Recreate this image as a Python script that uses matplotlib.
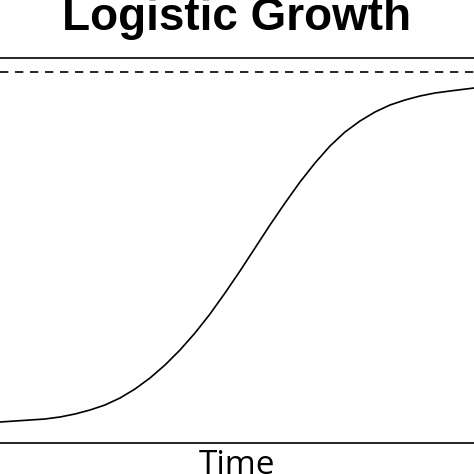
import matplotlib
matplotlib.use("Agg")
import matplotlib.pyplot as plt

# curve (time, population)
time = [0, 15, 30, 45, 60, 75, 90, 105, 120, 135, 150, 165, 180, 195, 210, 225, 240,
        255, 270, 285, 300, 315, 330, 345, 360, 375, 390, 405, 420, 435, 450, 474]
population = [21, 22, 23, 24, 26, 29, 33, 38, 45, 54, 65, 78, 93, 110, 129, 150, 172,
              195, 218, 240, 261, 280, 297, 311, 322, 331, 338, 343, 347, 350, 352, 355]
capacity = 371

fig = plt.figure(figsize=(4.74, 4.74), dpi=100)
ax = fig.add_axes([0, 31 / 474, 1, 385 / 474])
ax.plot(time, population, color="black", lw=1.2, solid_joinstyle="round")
ax.axhline(capacity, color="black", lw=1.2, ls=(0, (5, 4)))
ax.set_xlim(0, 474)
ax.set_ylim(0, 385)
ax.set_xticks([])
ax.set_yticks([])
ax.spines["left"].set_visible(False)
ax.spines["right"].set_visible(False)
for s in ("top", "bottom"):
    ax.spines[s].set_linewidth(1.2)

fig.text(0.5, 1 - 18 / 474, "Logistic Growth", ha="center", va="center",
         fontsize=33, fontweight="bold", family="Liberation Sans")
fig.text(0.5, 1 - 466 / 474, "Time", ha="center", va="center",
         fontsize=24, family="Open Sans")

fig.savefig("out.png", dpi=100)
